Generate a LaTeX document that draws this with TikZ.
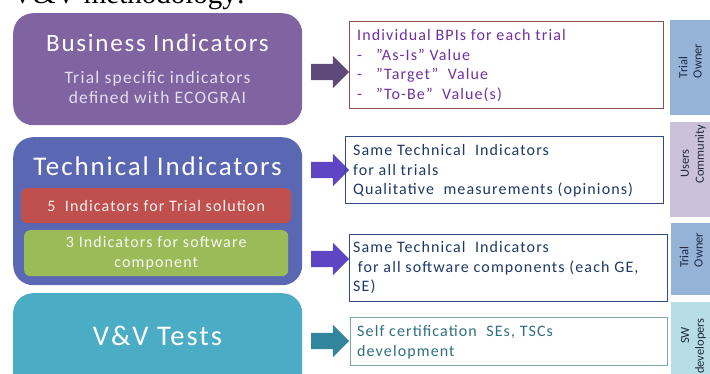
\documentclass[tikz,border=0pt]{standalone}
\usepackage{fontspec}
\setmainfont{Carlito}[LetterSpace=7]
\newfontfamily\sidefont{Carlito}
\newfontfamily\titlefont{Liberation Serif}
\usetikzlibrary{shapes.arrows}
\definecolor{bizc}{HTML}{8064A2}
\definecolor{bizsub}{HTML}{E4DDEE}
\definecolor{arr1}{HTML}{5F497A}
\definecolor{bpiborder}{HTML}{8E4F4F}
\definecolor{bpitext}{HTML}{7030A0}
\definecolor{techc}{HTML}{5A68B4}
\definecolor{redbar}{HTML}{C0504D}
\definecolor{greenbar}{HTML}{9BBB59}
\definecolor{arr2}{HTML}{5E45C4}
\definecolor{navyb}{HTML}{2F4A85}
\definecolor{navyt}{HTML}{1F3864}
\definecolor{userc}{HTML}{CCC1DA}
\definecolor{ownc}{HTML}{95B3D7}
\definecolor{vvc}{HTML}{4BACC6}
\definecolor{arr4}{HTML}{31859C}
\definecolor{tealb}{HTML}{7FA3AA}
\definecolor{tealt}{HTML}{2F6F80}
\definecolor{swc}{HTML}{B7DEE8}
\definecolor{sidetext}{HTML}{1F2A40}
\tikzset{
  bigbox/.style={rounded corners=20pt, inner sep=0pt, anchor=north west},
  barbox/.style={rounded corners=6pt, inner sep=0pt, anchor=north west},
  infobox/.style={draw, line width=0.9pt, inner sep=0pt, anchor=north west},
  sidebox/.style={inner sep=0pt, anchor=north west},
  sidelabel/.style={rotate=90, inner sep=0pt, text=sidetext, font=\sidefont\fontsize{12.5}{13}\selectfont},
  blockarrow/.style={single arrow, single arrow head extend=8pt, inner sep=0pt, inner ysep=8pt, minimum height=38pt, minimum width=32pt},
  infotext/.style={anchor=north west, align=left, inner sep=0pt, font=\fontsize{16}{19.7}\selectfont},
}
\begin{document}
\begin{tikzpicture}[x=1pt,y=-1pt]
\useasboundingbox (0,0) rectangle (710,374);
% cropped heading
\node[anchor=base west, inner sep=0pt, font=\titlefont\fontsize{29}{30}\selectfont] (head) at (12,4) {V\&V methodology:};

% Business indicators
\node[bigbox, fill=bizc, minimum width=289, minimum height=112] (biz) at (13,13) {};
\node[text=white, font=\fontsize{25}{28}\selectfont] (bizt) at (157.5,43) {Business Indicators};
\node[text=bizsub, align=center, font=\fontsize{17.5}{20}\selectfont] (bizs) at (157.5,87) {Trial specific indicators\\defined with ECOGRAI};
\node[blockarrow, fill=arr1] (a1) at (326,72) {};
\node[infobox, draw=bpiborder, minimum width=314, minimum height=87] (bpi) at (349,21) {};
\node[infotext, text=bpitext] (bpit) at (357,29) {Individual BPIs for each trial\\
\makebox[19pt][l]{-}”As-Is” Value\\
\makebox[19pt][l]{-}”Target”~ Value\\
\makebox[19pt][l]{-}”To-Be”~ Value(s)};
\node[sidebox, fill=ownc, minimum width=48, minimum height=95] (own1) at (670,20) {};
\node[sidelabel] (own1a) at (683,67.5) {Trial};
\node[sidelabel] (own1b) at (697.5,61) {Owner};

% Technical indicators
\node[bigbox, fill=techc, minimum width=289, minimum height=148] (tech) at (13,137) {};
\node[text=white, font=\fontsize{27}{30}\selectfont] (techt) at (157.5,166) {Technical Indicators};
\node[barbox, fill=redbar, minimum width=270, minimum height=35] (red) at (21,188) {};
\node[text=white!92!redbar, font=\fontsize{16}{20}\selectfont] (redt) at (red.center) {5~ Indicators for Trial solution};
\node[barbox, fill=greenbar, minimum width=264, minimum height=46] (green) at (24,230) {};
\node[text=white!92!greenbar, align=center, font=\fontsize{16}{20}\selectfont] (greent) at (green.center) {3 Indicators for software\\component};
\node[blockarrow, fill=arr2] (a2) at (326,170) {};
\node[infobox, draw=navyb, minimum width=318, minimum height=67] (tb1) at (345,136) {};
\node[infotext, text=navyt] (tb1t) at (353,144) {Same Technical~ Indicators\\for all trials\\Qualitative~ measurements (opinions)};
\node[sidebox, fill=userc, minimum width=48, minimum height=95] (users) at (670,122) {};
\node[sidelabel] (usersa) at (685,163.5) {Users};
\node[sidelabel] (usersb) at (700.5,154) {Community};
\node[blockarrow, fill=arr2] (a3) at (326,259) {};
\node[infobox, draw=navyb, minimum width=318, minimum height=67] (tb2) at (349,234) {};
\node[infotext, text=navyt] (tb2t) at (353,241) {Same Technical~ Indicators\\\ for all software components (each GE,\\SE)};
\node[sidebox, fill=ownc, minimum width=48, minimum height=72] (own2) at (671,223) {};
\node[sidelabel] (own2a) at (684,257) {Trial};
\node[sidelabel] (own2b) at (698.5,250) {Owner};

% V&V tests
\node[bigbox, fill=vvc, minimum width=289, minimum height=110] (vv) at (13,293) {};
\node[text=white, font=\fontsize{28.5}{30}\selectfont] (vvt) at (157.5,336) {V\&V Tests};
\node[blockarrow, fill=arr4] (a4) at (326,341) {};
\node[infobox, draw=tealb, minimum width=317, minimum height=48] (vb) at (350,317) {};
\node[infotext, text=tealt] (vbt) at (357,325) {Self certification~ SEs, TSCs\\development};
\node[sidebox, fill=swc, minimum width=48, minimum height=80] (sw) at (671,302) {};
\node[sidelabel] (swa) at (685,335.5) {SW};
\node[sidelabel] (swb) at (700.5,346) {developers};
\end{tikzpicture}
\end{document}
